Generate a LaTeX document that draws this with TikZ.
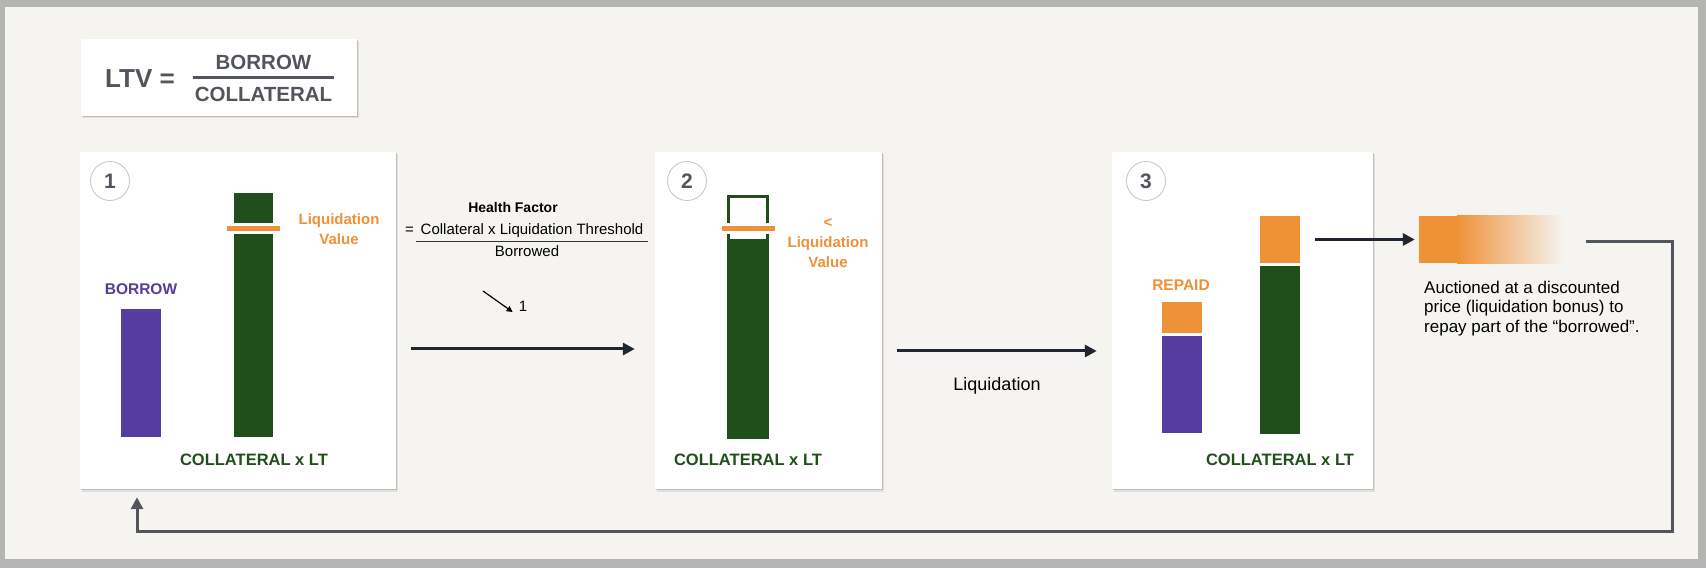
\documentclass[tikz,border=0pt]{standalone}
\usepackage{fontspec}
\setmainfont{Liberation Sans}
\usetikzlibrary{arrows.meta,shadows}

\definecolor{bgc}{HTML}{F5F4F1}
\definecolor{framegray}{HTML}{B4B4B2}
\definecolor{purp}{HTML}{553C9E}
\definecolor{dgreen}{HTML}{214F1B}
\definecolor{lorange}{HTML}{EF9137}
\definecolor{txtgray}{HTML}{52565C}
\definecolor{circgray}{HTML}{C4C4C4}
\definecolor{arrowc}{HTML}{1F2631}
\definecolor{retgray}{HTML}{50565C}

\begin{document}
\begin{tikzpicture}[x=1pt,y=1pt]
\tikzstyle{panel}=[rectangle,fill=white,inner sep=0pt,
  drop shadow={shadow xshift=1.5pt,shadow yshift=-2.5pt,opacity=0.08,fill=black},
  drop shadow={shadow xshift=0.8pt,shadow yshift=-1.2pt,opacity=0.15,fill=black}]
\tikzstyle{bar}=[rectangle,inner sep=0pt,minimum width=40pt]
\tikzstyle{liqmark}=[rectangle,inner sep=0pt,fill=lorange,draw=white,line width=3pt,minimum width=56pt,minimum height=8pt]
\tikzstyle{stepnum}=[circle,draw=circgray,line width=0.8pt,minimum size=39pt,inner sep=0pt,text=txtgray,font=\fontsize{21}{21}\selectfont\bfseries]
\tikzstyle{collat}=[anchor=base,inner sep=0pt,text=dgreen,font=\fontsize{16.5}{20}\selectfont\bfseries]
\tikzstyle{barlbl}=[anchor=base,inner sep=0pt,font=\fontsize{15.5}{20}\selectfont\bfseries]
\tikzstyle{orangelbl}=[align=center,inner sep=0pt,text=lorange,font=\fontsize{15}{20}\selectfont\bfseries]
\tikzstyle{ltvtxt}=[anchor=base,inner sep=0pt,text=txtgray,font=\fontsize{20.5}{24}\selectfont\bfseries]
\tikzstyle{plain}=[anchor=base,inner sep=0pt,font=\fontsize{15}{18}\selectfont]
\tikzstyle{flow}=[draw=arrowc,line width=3pt,-{Triangle[length=12pt,width=12pt]}]
\tikzstyle{loopback}=[draw=retgray,line width=3pt,-{Triangle[length=12pt,width=12pt]},shorten >=8pt]

\useasboundingbox (0,0) rectangle (1706,568);
\fill[framegray] (0,0) rectangle (1706,568);
\fill[bgc] (5,9) rectangle (1698,561);

% LTV formula
\node[panel,minimum width=276pt,minimum height=77pt] (ltv) at (219,490.5) {};
\node[ltvtxt,anchor=base west,font=\fontsize{26}{30}\selectfont\bfseries] (ltvlhs) at (105,480) {LTV =};
\node[ltvtxt] (ltvnum) at (263.5,498) {BORROW};
\node[ltvtxt] (ltvden) at (263.5,466) {COLLATERAL};
\draw[txtgray,line width=3pt] (193,490) -- (334,490);

\node[panel,minimum width=316pt,minimum height=337pt] (p1) at (238,247.5) {};
\node[panel,minimum width=227pt,minimum height=337pt] (p2) at (768.5,247.5) {};
\node[panel,minimum width=261pt,minimum height=337pt] (p3) at (1242.5,247.5) {};

\node[stepnum] (n1) at (110,387) {1};
\node[stepnum] (n2) at (687,387) {2};
\node[stepnum] (n3) at (1146,387) {3};

% step 1
\node[bar,fill=purp,minimum height=128pt] (borrow1) at (141,195) {};
\node[bar,fill=dgreen,minimum width=39pt,minimum height=244pt] (coll1) at (253.5,253) {};
\node[liqmark] (liq1) at (253.5,339.5) {};
\node[orangelbl] (liqtxt1) at (339,339) {Liquidation\\Value};
\node[barlbl,text=purp] (borrowtxt1) at (141,273) {BORROW};
\node[collat] (colltxt1) at (254,102) {COLLATERAL x LT};

% step 2
\node[bar,draw=dgreen,line width=3pt,minimum width=39pt,minimum height=241pt] (coll2) at (748,251) {};
\node[bar,fill=dgreen,minimum width=42pt,minimum height=200pt] (collfill2) at (748,229) {};
\node[liqmark] (liq2) at (748.5,339.5) {};
\node[orangelbl] (liqtxt2) at (828,325) {<\\Liquidation\\Value};
\node[collat] (colltxt2) at (748,102) {COLLATERAL x LT};

% step 3
\node[bar,fill=purp,minimum height=97pt] (borrow3) at (1182,183.5) {};
\node[bar,fill=lorange,minimum height=31pt] (repaid3) at (1182,250.5) {};
\node[bar,fill=dgreen,minimum height=168pt] (coll3) at (1280,218) {};
\node[bar,fill=lorange,minimum height=47pt] (seized3) at (1280,328.5) {};
\node[barlbl,text=lorange] (repaidtxt3) at (1181,277) {REPAID};
\node[collat] (colltxt3) at (1280,102) {COLLATERAL x LT};

% health factor
\node[plain,font=\fontsize{14}{18}\selectfont\bfseries] (hftitle) at (513,355) {Health Factor};
\node[plain,anchor=base west] (hfeq) at (405,333) {=};
\node[plain,inner xsep=4pt] (hfnum) at (532,333) {Collateral x Liquidation Threshold};
\draw[black!80,line width=1pt] ([yshift=-7pt]hfnum.base west) -- ([yshift=-7pt]hfnum.base east);
\node[plain] (hfden) at (527,311) {Borrowed};
\node[plain] (hfone) at (523,256) {1};
\coordinate (hftail) at (483,277);
\draw[black,line width=1.2pt,-{Triangle[length=6pt,width=6pt]}] (hftail) -- ([shift={(-6,0)}]hfone.base west);

% auction
\node[inner sep=0pt,minimum width=144pt,minimum height=47pt] (auction) at (1491,328.5) {};
\fill[lorange] (auction.north west) rectangle ([xshift=38pt]auction.south west);
\shade[left color=lorange,right color=bgc] ([xshift=38pt]auction.north west) rectangle (auction.south east);
\node[anchor=north west,align=left,inner sep=0pt,font=\fontsize{17}{19.5}\selectfont] (auctiontxt) at (1424,287.4) {Auctioned at a discounted\\price (liquidation bonus) to\\repay part of the “borrowed”.};

\path ([shift={(15,-28.5)}]p1.east) edge[flow] ([shift={(-20,-28.5)}]p2.west) % simple edges
      ([shift={(15,-30.5)}]p2.east) edge[flow] ([shift={(-15,-30.5)}]p3.west)
      ([xshift=15pt]seized3.east) edge[flow] ([xshift=-4pt]auction.west);
\node[plain,font=\fontsize{18}{20}\selectfont] (liqstep) at (997,177) {Liquidation};

\coordinate (ret) at (1586,326);
\coordinate (retcorner) at (1672,37);
\draw[loopback] (ret) -| (retcorner) -| ([xshift=-101pt]p1.south);

\end{tikzpicture}
\end{document}
